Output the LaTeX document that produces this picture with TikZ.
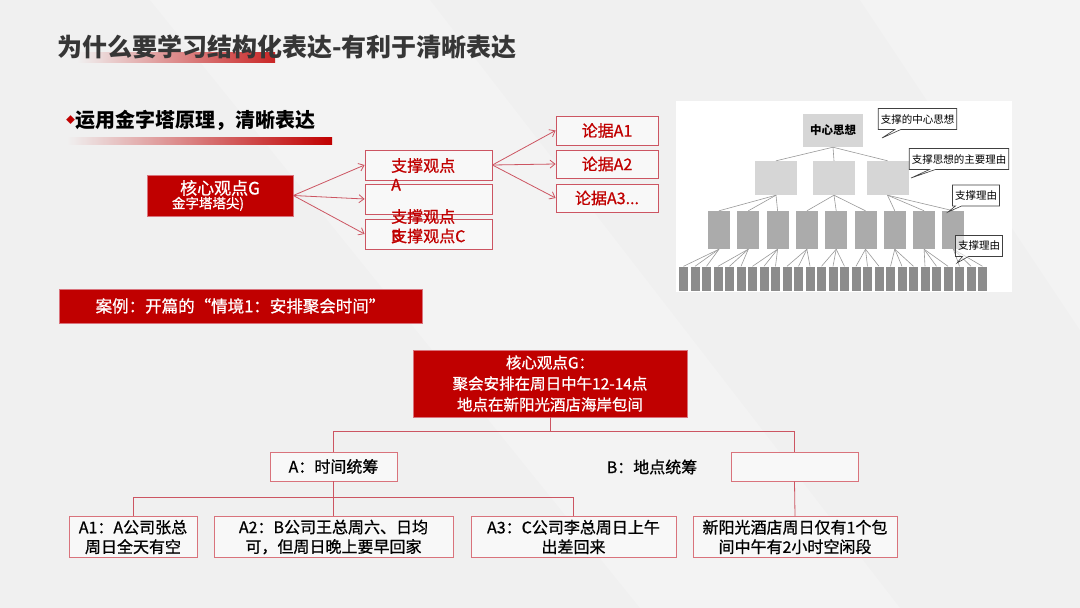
\documentclass[tikz,border=0pt]{standalone}
\usepackage{fontspec}
\setmainfont{Noto Sans CJK SC}[UprightFeatures={FakeBold=0.8}]
\newfontfamily\plainfont{Noto Sans CJK SC}
\usepackage{xcolor}
\usetikzlibrary{arrows.meta, positioning, shapes.callouts}
\definecolor{kred}{HTML}{C00000}
\definecolor{kpink}{HTML}{D9737C}
\definecolor{kline}{HTML}{CC5562}
\definecolor{kgrey}{HTML}{363636}
\definecolor{kbg}{HTML}{F0F0F0}
\definecolor{pyrlight}{HTML}{D6D6D6}
\definecolor{pyrmid}{HTML}{ABABAB}
\definecolor{pyrdark}{HTML}{8C8C8C}
\newcommand{\fs}[2]{\fontsize{#1}{#2}\selectfont}
\tikzset{
  redbox/.style={fill=kred, draw=kpink, line width=0.6pt, text=white, align=center, inner sep=0pt},
  midbox/.style={draw=kline, line width=0.8pt, fill=white!55!kbg, minimum width=127pt, inner sep=0pt},
  midtxt/.style={font=\fs{16}{19}, text=kred, anchor=west, inner sep=0pt},
  arr/.style={draw=kline, line width=0.8pt, -{Straight Barb[length=5pt, width=8pt]}},
  casebox/.style={draw=kpink, line width=0.8pt, fill=white!55!kbg, font=\fs{16}{19.5}, align=center, inner sep=0pt, text=black},
  tree/.style={draw=kline, line width=0.8pt},
  pyrbox/.style={inner sep=0pt, draw=none},
  pyrline/.style={draw=black!40, line width=0.6pt},
  callbox/.style={rectangle callout, draw=black!75, line width=0.6pt, fill=white, fill opacity=0.6, text opacity=1,
    font=\plainfont\fs{10.5}{12}, inner sep=2.5pt, minimum height=21pt, callout pointer width=6pt}
}
\begin{document}
\begin{tikzpicture}[x=1pt, y=-1pt]
\useasboundingbox (0,0) rectangle (1080,608);
\fill[kbg] (0,0) rectangle (1080,608);
\fill[white, opacity=0.2] (150,0) -- (430,0) -- (900,608) -- (640,608) -- cycle;
\fill[white, opacity=0.2] (860,0) -- (1080,0) -- (1080,330) -- cycle;

% title and subtitle
\shade[left color=kbg, right color=kred!85] (77,52) rectangle (275,62);
\node[anchor=west, font=\fs{25}{29}\bfseries, text=kgrey, inner sep=0pt] (title) at (57,47) {为什么要学习结构化表达-有利于清晰表达};
\shade[left color=kbg, right color=kred] (67,137) rectangle (332,144);
\node[anchor=west, font=\fs{20}{24}\bfseries, text=black, inner sep=0pt] (subtitle) at (66,120) {\raisebox{3.5pt}{\color{kred}\fs{9}{10}◆}运用金字塔原理，清晰表达};

% pyramid sketch
\node[redbox, minimum width=146pt, minimum height=41pt] (g) at (220,195.5)
  {\fs{17}{21}核心观点G\\\fs{13.5}{15}\hspace*{-24pt}金字塔塔尖)};
\node[midbox, minimum height=30pt] (pa) at (428.5,165) {};
\node[midbox, minimum height=30pt] (pb) at (428.5,199) {};
\node[midbox, minimum height=30pt] (pc) at (428.5,234) {};
\node[midtxt, anchor=north west, align=left] (pat) at (391,158) {支撑观点\\A};
\node[midtxt, anchor=north west, align=left] (pbt) at (391,209) {支撑观点\\B};
\node[midtxt] (pct) at (391,236) {支撑观点C};
\node[midbox, minimum width=102pt, minimum height=29pt, font=\fs{16}{19}, text=kred] (a1) at (607,130.5) {论据A1};
\node[midbox, minimum width=102pt, minimum height=28pt, font=\fs{16}{19}, text=kred] (a2) at (607,164) {论据A2};
\node[midbox, minimum width=102pt, minimum height=28pt, font=\fs{16}{19}, text=kred] (a3) at (607,198) {论据A3...};
\draw[arr] (g.east) -- (pa.west);
\draw[arr] (g.east) -- (pb.west);
\draw[arr] (g.east) -- (pc.west);
\draw[arr] (pa.east) -- (a1.west);
\draw[arr] (pa.east) -- (a2.west);
\draw[arr] (pa.east) -- (a3.west);

% picture of the pyramid
\fill[white] (676,101) rectangle (1012,292);
\node[pyrbox, fill=pyrlight, minimum width=60pt, minimum height=33pt, font=\fs{11.5}{13}\bfseries] (top) at (833,130.5) {中心思想};
\foreach \i/\x in {1/776,2/834,3/887.5}
  \node[pyrbox, fill=pyrlight, minimum width=42pt, minimum height=34pt] (l2-\i) at (\x,178) {};
\foreach \i in {0,...,8}
  \node[pyrbox, fill=pyrmid, minimum width=22pt, minimum height=38pt] (l3-\i) at ({719+29.3*\i},230) {};
\foreach \j in {0,...,26}
  \node[pyrbox, fill=pyrdark, minimum width=9pt, minimum height=24pt] (l4-\j) at ({683.5+11.5*\j},278.5) {};
\foreach \i in {1,2,3}
  \draw[pyrline] (top.south) -- (l2-\i.north);
\foreach \i in {0,...,8} {
  \pgfmathtruncatemacro\p{int(\i/3)+1}
  \draw[pyrline] (l2-\p.south) -- (l3-\i.north);
}
\foreach \j in {0,...,26} {
  \pgfmathtruncatemacro\p{int(\j/3)}
  \draw[pyrline] (l3-\p.south) -- (l4-\j.north);
}
\node[callbox, callout absolute pointer={(882,138)}] (c1) at (917.5,119) {支撑的中心思想};
\node[callbox, callout absolute pointer={(911,178)}] (c2) at (959,159) {支撑思想的主要理由};
\node[callbox, callout absolute pointer={(948,212)}] (c3) at (976,195.5) {支撑理由};
\node[callbox, callout absolute pointer={(957,263)}] (c4) at (979,246) {支撑理由};

% case
\node[redbox, minimum width=363pt, minimum height=34pt, font=\fs{16.5}{19}] (case) at (240.5,306) {案例：开篇的“情境1：安排聚会时间”};
\node[redbox, minimum width=274pt, minimum height=67pt, font=\fs{15.5}{21}] (core) at (550,383.5)
  {核心观点G：\\聚会安排在周日中午12-14点\\地点在新阳光酒店海岸包间};
\node[casebox, minimum width=127pt, minimum height=29pt] (ta) at (333.5,466.5) {A：时间统筹};
\node[font=\fs{16}{19}, inner sep=0pt] (tb) at (652,467) {B：地点统筹};
\node[casebox, minimum width=127pt, minimum height=29pt] (te) at (794.5,466.5) {};
\node[casebox, minimum width=128pt, minimum height=41pt] (b1) at (133,537) {A1：A公司张总\\周日全天有空};
\node[casebox, minimum width=239pt, minimum height=41pt] (b2) at (333.5,537) {A2：B公司王总周六、日均\\可，但周日晚上要早回家};
\node[casebox, minimum width=205pt, minimum height=41pt] (b3) at (573.5,537) {A3：C公司李总周日上午\\出差回来};
\node[casebox, minimum width=204pt, minimum height=41pt] (b4) at (795,537) {新阳光酒店周日仅有1个包\\间中午有2小时空闲段};
\draw[tree] (core.south) -- ++(0,14) -| (ta.north);
\draw[tree] (core.south) -- ++(0,14) -| (te.north);
\draw[tree] (ta.south) -- ++(0,16) -| (b1.north);
\draw[tree] (ta.south) -- (b2.north);
\draw[tree] (ta.south) -- ++(0,16) -| (b3.north);
\draw[tree] (te.south) -- (b4.north);
\end{tikzpicture}
\end{document}
